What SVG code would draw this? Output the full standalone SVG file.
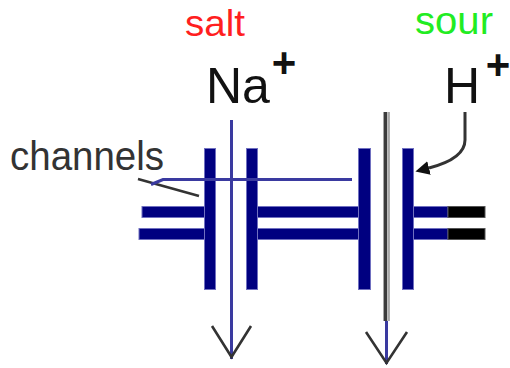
<svg xmlns="http://www.w3.org/2000/svg" width="510" height="368" viewBox="0 0 510 368">
  <defs>
    <style>
      .lbl { font-family: "Liberation Sans", Arial, sans-serif; }
      .ion { font-size: 50px; fill: #111; }
      .chg { font-size: 42px; font-weight: bold; fill: #111; text-anchor: middle; }
      .wall { fill: #000080; stroke: #7070c0; stroke-width: 1; }
      .plug { fill: #000; stroke: #555; stroke-width: 1; }
      .flow { fill: none; stroke: #3a3aa0; stroke-width: 3; }
      .vee { fill: none; stroke: #333; stroke-width: 2.6; stroke-linejoin: miter; }
    </style>
    <marker id="head" viewBox="0 0 14 14" refX="0" refY="7" markerWidth="14" markerHeight="14" markerUnits="userSpaceOnUse" orient="auto">
      <path d="M0,0 L14,7 L0,14 z" fill="#111"/>
    </marker>
  </defs>

  <rect width="510" height="368" fill="#fff"/>

  <!-- taste labels -->
  <g id="salt">
    <text class="lbl" x="185" y="36" font-size="36" fill="#ff1f1f" textLength="60" lengthAdjust="spacingAndGlyphs">salt</text>
  </g>
  <g id="sour">
    <text class="lbl" x="415" y="34" font-size="38" fill="#22ec22" textLength="78" lengthAdjust="spacingAndGlyphs">sour</text>
  </g>

  <!-- ions -->
  <g id="na-ion">
    <text class="lbl ion" x="206" y="103">Na</text>
    <text class="lbl chg" x="284" y="77">+</text>
  </g>
  <g id="h-ion">
    <text class="lbl ion" x="444" y="103">H</text>
    <text class="lbl chg" x="498" y="79">+</text>
  </g>

  <g id="channels-label">
    <text class="lbl" x="10" y="170" font-size="40" fill="#333" textLength="154" lengthAdjust="spacingAndGlyphs">channels</text>
  </g>

  <!-- membrane with two channels -->
  <g id="membrane">
    <!-- left membrane segment -->
    <rect class="wall" x="142" y="206.5" width="68" height="11"/>
    <rect class="wall" x="139" y="228.5" width="71" height="11"/>
    <!-- middle segment -->
    <rect class="wall" x="252" y="206.5" width="112" height="11"/>
    <rect class="wall" x="252" y="228.5" width="112" height="11"/>
    <!-- right segment -->
    <rect class="wall" x="408" y="206.5" width="40" height="11"/>
    <rect class="wall" x="408" y="228.5" width="40" height="11"/>
    <rect class="plug" x="448" y="206.5" width="37" height="11"/>
    <rect class="plug" x="448" y="228.5" width="37" height="11"/>
  </g>

  <g id="na-channel">
    <rect class="wall" x="204.5" y="148.5" width="11" height="141"/>
    <rect class="wall" x="246.5" y="148.5" width="11" height="141"/>
  </g>

  <g id="h-channel">
    <rect class="wall" x="358.5" y="148.5" width="12" height="141"/>
    <rect class="wall" x="402.5" y="148.5" width="11" height="141"/>
  </g>

  <!-- connectors -->
  <g id="connectors">
    <!-- channels pointer -->
    <line x1="138" y1="179" x2="199" y2="196" stroke="#333" stroke-width="2.6"/>
    <polyline class="flow" points="151,184.5 163,179.5 352,179.5"/>

    <!-- Na+ path through its channel -->
    <line class="flow" x1="231.5" y1="120" x2="231.5" y2="359"/>
    <polyline class="vee" points="212,326 231.5,357 251,326"/>

    <!-- H+ path through its channel -->
    <line x1="385.3" y1="112" x2="385.3" y2="321" stroke="#3c3c3c" stroke-width="3.5"/>
    <line x1="388.6" y1="112" x2="388.6" y2="321" stroke="#a8a8a8" stroke-width="2.6"/>
    <line class="flow" x1="386.5" y1="321" x2="386.5" y2="364"/>
    <polyline class="vee" points="366,332 386.5,363 407,332"/>

    <!-- H+ curved pointer -->
    <path d="M465,112 L465,140 C465,153 452,162 429,168" fill="none" stroke="#333" stroke-width="3" marker-end="url(#head)"/>
  </g>
</svg>
